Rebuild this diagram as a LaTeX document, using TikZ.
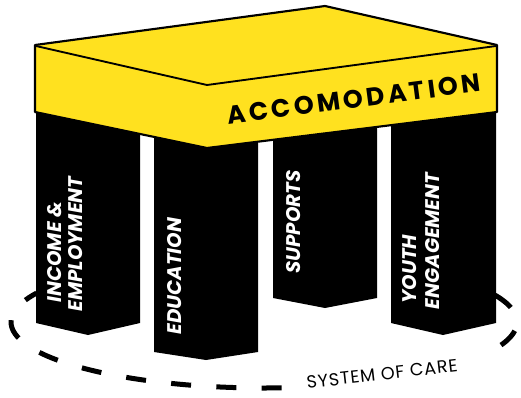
\documentclass[tikz,border=0pt]{standalone}
\usepackage{fontspec}
\setmainfont{Poppins}
\usepackage{tikz}

\definecolor{slabyellow}{HTML}{FFE11F}

\begin{document}
\begin{tikzpicture}[x=0.75pt, y=-0.75pt,
  pillar/.style={fill=black},
  pillartext/.style={white, rotate=90, inner sep=0pt,
    font=\fontsize{14.8}{17}\selectfont\bfseries\itshape},
  careline/.style={black, line width=3.75pt, dash pattern=on 15pt off 19pt},
  slab/.style={black, fill=slabyellow, line width=1.6pt, line join=round}]
\useasboundingbox (0,0) rectangle (521,397);

% system of care, behind the pillars
\draw[careline, domain=86:206, samples=60, variable=\t, smooth] plot ({264+253*cos(\t)}, {322+66*sin(\t)});
\draw[careline, domain=-24:30, samples=30, variable=\t, smooth] plot ({264+253*cos(\t)}, {322+66*sin(\t)});
\node[rotate=6.5, inner sep=0pt, font=\fontsize{13.2}{16}\selectfont\addfontfeatures{LetterSpace=5}] (care) at (382, 374) {SYSTEM OF CARE};

% pillars
\fill[pillar] (36,100) -- (140,100) -- (140,323) -- (88,335) -- (36,323) -- cycle;
\fill[pillar] (154,100) -- (258,100) -- (258,352) -- (206,360) -- (154,352) -- cycle;
\fill[pillar] (273,100) -- (377,100) -- (377,298) -- (325,308) -- (273,298) -- cycle;
\fill[pillar] (391,100) -- (496,100) -- (496,323) -- (443,335) -- (391,323) -- cycle;

% slab on top
\draw[slab] (35,45) -- (325,6) -- (497,45) -- (497,112) -- (207,148) -- (35,112) -- cycle;
\draw[black, line width=1.4pt] (36,46) -- (207,85) -- (496,46);
\node[rotate=7.5, inner sep=0pt, font=\fontsize{19}{22}\selectfont\bfseries\addfontfeatures{LetterSpace=13}] (roof) at (354, 99) {ACCOMODATION};

% pillar labels
\node[pillartext] (income) at (55, 252) {INCOME \&};
\node[pillartext] (employ) at (76, 244) {EMPLOYMENT};
\node[pillartext] (educ) at (175, 276) {EDUCATION};
\node[pillartext] (supp) at (294, 222) {SUPPORTS};
\node[pillartext] (youth) at (410, 269) {YOUTH};
\node[pillartext] (engage) at (433, 241) {ENGAGEMENT};
\end{tikzpicture}
\end{document}
